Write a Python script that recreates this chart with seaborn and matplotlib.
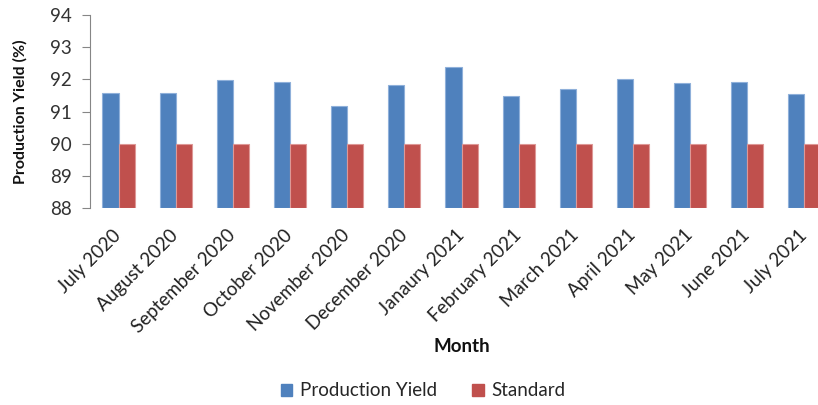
import matplotlib
matplotlib.use("Agg")
import matplotlib.pyplot as plt
import matplotlib.transforms as mtransforms
import seaborn as sns
import pandas as pd
from matplotlib.patches import Patch

months = ["July 2020", "August 2020", "September 2020", "October 2020",
          "November 2020", "December 2020", "Janaury 2021", "February 2021",
          "March 2021", "April 2021", "May 2021", "June 2021", "July 2021"]
production_yield = [91.57, 91.57, 91.98, 91.91, 91.19, 91.83, 92.38,
                    91.48, 91.70, 92.02, 91.89, 91.92, 91.55]
standard = [90, 90, 90, 90, 90, 90, 90, 90, 90, 90, 90, 90, 90]
series_names = ["Production Yield", "Standard"]
y_ticks = [88, 89, 90, 91, 92, 93, 94]

colors = ["#4F81BD", "#C0504D"]
edge_colors = ["#8FB0DA", "#DE9896"]

df = pd.DataFrame({
    "Month": months * 2,
    "Value": production_yield + standard,
    "Series": [series_names[0]] * len(months) + [series_names[1]] * len(months),
})

sns.set_theme(style="white")
plt.rcParams["font.family"] = ["Lato", "DejaVu Sans"]

fig = plt.figure(figsize=(8.18, 4.05), dpi=100)
ax = fig.add_axes([90 / 818, 1 - 208.3 / 405, 743 / 818, 193.3 / 405])

sns.barplot(data=df, x="Month", y="Value", hue="Series", palette=colors,
            width=0.565, gap=0, legend=False, ax=ax, saturation=1)

# Bars start at the axis floor (88), so redraw them from the bottom of the range
for container, ec in zip(ax.containers, edge_colors):
    for bar in container:
        h = bar.get_height()
        bar.set_y(88)
        bar.set_height(h - 88)
        bar.set_edgecolor(ec)
        bar.set_linewidth(0.8)

ax.set_ylim(88, 94)
ax.set_xlim(-0.5, len(months) - 0.5)
ax.set_yticks(y_ticks)
ax.set_yticklabels([str(t) for t in y_ticks], fontsize=13.5, color="#333333")
ax.tick_params(axis="y", which="major", left=True, length=5.5, width=0.8,
               color="#868686", pad=7.5)
ax.tick_params(axis="x", bottom=False, pad=7)
ax.set_xticks(range(len(months)))
ax.set_xticklabels(months, rotation=45, ha="right", va="top",
                   rotation_mode="anchor", fontsize=13.5, color="#222222")
shift = mtransforms.ScaledTranslation(-6 / 100, 0, fig.dpi_scale_trans)
for lbl in ax.get_xticklabels():
    lbl.set_transform(lbl.get_transform() + shift)
for s in ["top", "right", "bottom"]:
    ax.spines[s].set_visible(False)
ax.spines["left"].set_color("#868686")
ax.spines["left"].set_linewidth(0.8)

ax.set_ylabel("")
ax.set_xlabel("")
fig.text(20 / 818, 1 - 112 / 405, "Production Yield (%)", rotation=90,
         ha="center", va="center", fontsize=11.5, fontweight="bold",
         color="#111111")
fig.text(462 / 818, 1 - 346 / 405, "Month", ha="center", va="center",
         fontsize=13.5, fontweight="bold", color="#111111")

handles = [Patch(facecolor=c, edgecolor=c) for c in colors]
fig.legend(handles, series_names, loc="center", ncol=2,
           bbox_to_anchor=(423 / 818, 1 - 391 / 405), frameon=False,
           fontsize=13.5, handlelength=0.6, handleheight=0.6,
           handletextpad=0.4, columnspacing=1.9)

fig.savefig("out.png", dpi=100)
